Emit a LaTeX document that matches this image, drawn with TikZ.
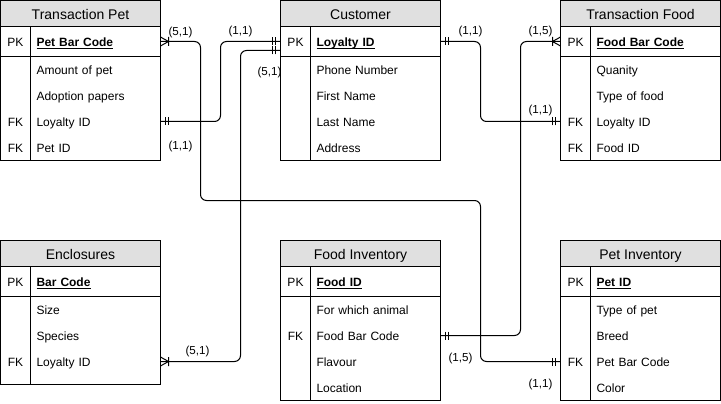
\documentclass[tikz,border=0pt]{standalone}
\usepackage{fontspec}
\setmainfont{Liberation Sans}
\usetikzlibrary{calc}
\definecolor{hdrgray}{HTML}{E0E0E0}
\newcommand{\pkul}[1]{\setbox0\hbox{#1}\rlap{\rule[-2.6pt]{\wd0}{0.9pt}}\box0}
\tikzset{
  cell/.style={inner sep=0pt, outer sep=0pt, font=\fontsize{12}{14}\selectfont, text height=10pt, text depth=0pt},
  hdr/.style={cell, fill=hdrgray, minimum width=160pt, minimum height=26pt, anchor=north west, font=\fontsize{14}{16}\selectfont, text height=12.5pt},
  keycell/.style={cell, minimum width=30pt, minimum height=26pt, anchor=north west},
  namecell/.style={cell, text width=118pt, inner xsep=6pt, align=left, minimum height=26pt, anchor=north west},
  pkrow/.style={minimum height=30pt},
  tbl/.style={line width=1pt},
  conn/.style={line width=1pt, rounded corners=6pt},
  mk/.style={line width=1pt},
  lbl/.style={inner sep=0pt, font=\fontsize{11.6}{13}\selectfont},
}
% id, x, y, height, title, pk, rows
\newcommand{\ertable}[7]{%
  \node[hdr] (#1-h) at (#2,#3) {#5};
  \node[keycell,pkrow] (#1-pkk) at (#1-h.south west) {PK};
  \node[namecell,pkrow] (#1-pk) at (#1-pkk.north east) {\pkul{\bfseries #6}};
  \foreach \k/\n [count=\i] in {#7} {
    \node[keycell] (#1-k\i) at ($(#1-pkk.south west)+(0,{26*(\i-1)})$) {\k};
    \node[namecell] (#1-r\i) at (#1-k\i.north east) {\n};
  }
  \draw[tbl] (#1-h.north west) rectangle ($(#1-h.north west)+(160,#4)$);
  \draw[tbl] (#1-h.south west) -- (#1-h.south east);
  \draw[tbl] (#1-pkk.south west) -- (#1-pk.south east);
  \draw[tbl] (#1-pkk.north east) -- ($(#1-h.north west)+(30,#4)$);
}
\newcommand{\mandone}[2]{\draw[mk,shift={(#1)},rotate=#2] (5,-4)--(5,4) (8,-4)--(8,4);}
\newcommand{\crowone}[2]{\draw[mk,shift={(#1)},rotate=#2] (0,-4.5)--(8,0)--(0,4.5) (8,-4.5)--(8,4.5);}
\begin{document}
\begin{tikzpicture}[x=1pt,y=-1pt]
\useasboundingbox (-0.5,-0.5) rectangle (720.5,403.5);

\ertable{tp}{0}{0}{160}{Transaction Pet}{Pet Bar Code}{/Amount of pet, /Adoption papers, FK/Loyalty ID, FK/Pet ID}
\ertable{cu}{280}{0}{160}{Customer}{Loyalty ID}{/Phone Number, /First Name, /Last Name, /Address}
\ertable{tf}{560}{0}{160}{Transaction Food}{Food Bar Code}{/Quanity, /Type of food, FK/Loyalty ID, FK/Food ID}
\ertable{en}{0}{240}{144}{Enclosures}{Bar Code}{/Size, /Species, FK/Loyalty ID}
\ertable{fi}{280}{240}{160}{Food Inventory}{Food ID}{/For which animal, FK/Food Bar Code, /Flavour, /Location}
\ertable{pi}{560}{240}{160}{Pet Inventory}{Pet ID}{/Type of pet, /Breed, FK/Pet Bar Code, /Color}

\coordinate (cu-in2) at ($(cu-pkk.west)+(0,9)$);

% connectors
\draw[conn] (tp-pk.east) -| (200,200) -| (480,300) |- (pi-k3.west);
\draw[conn] (tp-r3.east) -| (220,100) |- (cu-pkk.west);
\draw[conn] (en-r3.east) -| (240,100) |- (cu-in2);
\draw[conn] (cu-pk.east) -| (480,80) |- (tf-k3.west);
\draw[conn] (tf-pkk.west) -| (520,200) |- (fi-r2.east);

% markers
\crowone{tp-pk.east}{0}
\mandone{pi-k3.west}{180}
\mandone{tp-r3.east}{0}
\mandone{cu-pkk.west}{180}
\crowone{en-r3.east}{0}
\mandone{cu-in2}{180}
\mandone{cu-pk.east}{0}
\mandone{tf-k3.west}{180}
\crowone{tf-pkk.west}{180}
\mandone{fi-r2.east}{0}

% labels
\node[lbl] (l1) at (180,32) {(5,1)};
\node[lbl] (l2) at (240,31) {(1,1)};
\node[lbl] (l3) at (269,72) {(5,1)};
\node[lbl] (l4) at (180,146) {(1,1)};
\node[lbl] (l5) at (470,31) {(1,1)};
\node[lbl] (l6) at (540,31) {(1,5)};
\node[lbl] (l7) at (540,110) {(1,1)};
\node[lbl] (l8) at (197,351) {(5,1)};
\node[lbl] (l9) at (460,358) {(1,5)};
\node[lbl] (l10) at (540,384) {(1,1)};
\end{tikzpicture}
\end{document}
